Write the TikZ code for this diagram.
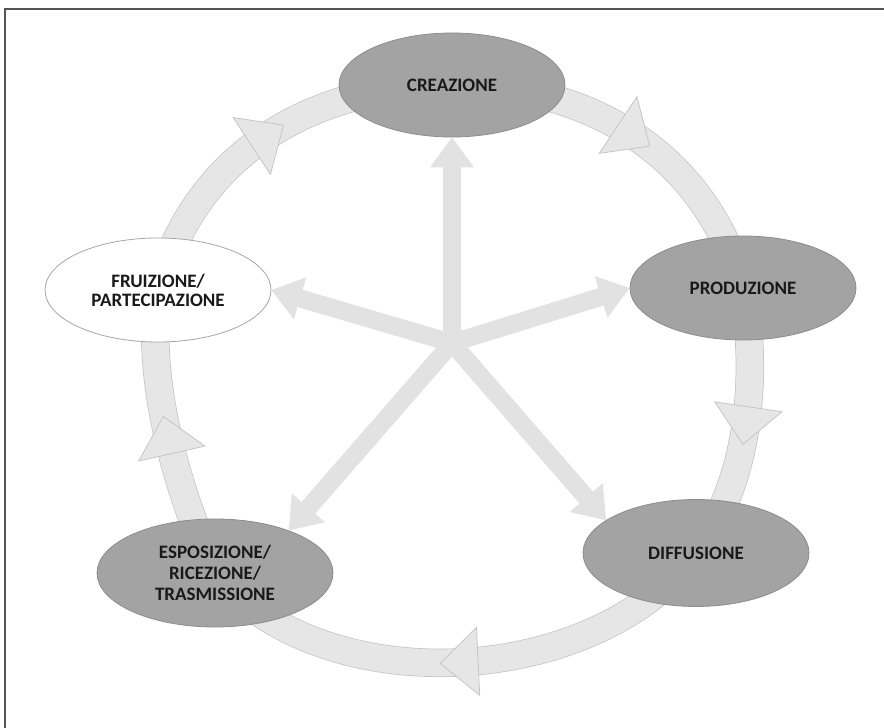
\documentclass[tikz,border=0pt]{standalone}
\usepackage{fontspec}
\setmainfont{Carlito}
\usepackage{xcolor}
\usepackage{tikz}
\usetikzlibrary{arrows.meta,shapes.geometric,decorations.markings,backgrounds}

\definecolor{stagefill}{HTML}{A3A3A3}
\definecolor{stageline}{HTML}{8C8C8C}
\definecolor{ringfill}{HTML}{E6E6E6}
\definecolor{ringline}{HTML}{C2C2C2}
\definecolor{spokecol}{HTML}{E2E2E2}
\definecolor{framecol}{HTML}{555555}

\begin{document}
\begin{tikzpicture}[
  x=1pt, y=1pt,
  font=\bfseries\fontsize{19}{19}\selectfont,
  stage/.style ={ellipse, draw=stageline, fill=stagefill, line width=0.8pt,
                 align=center, inner sep=0pt, text=black!90,
                 minimum width=226pt, minimum height=104pt},
  user/.style  ={stage, fill=white, draw=black!35},
  ring/.style  ={draw=ringline, line width=0.7pt, double=ringfill,
                 double distance=27pt, postaction={decorate},
                 decoration={markings, mark=at position 0.5 with
                   {\filldraw[draw=ringline, fill=ringfill, line width=0.7pt]
                     (-19pt,-34pt) -- (19pt,0pt) -- (-19pt,34pt) -- cycle;}}},
  spoke/.style ={draw=spokecol, line width=18pt, line cap=round,
                 -{Triangle[length=30pt, width=44pt, line width=0pt 0 0]}},
  frame/.style ={draw=framecol, line width=2.5pt}
]
\useasboundingbox (0,0) rectangle (884,728);

\draw[frame] (5,0) |- (884,719);

\node[stage] (crea) at (452,643) {CREAZIONE};
\node[stage] (prod) at (743,440) {PRODUZIONE};
\node[stage, minimum height=107pt] (diff) at (696,175) {DIFFUSIONE};
\node[stage, minimum width=236pt, minimum height=108pt,
      font=\bfseries\fontsize{19}{21}\selectfont] (espo) at (215,155)
  {ESPOSIZIONE/\\RICEZIONE/\\TRASMISSIONE};
\node[user] (frui) at (158,438) {FRUIZIONE/\\PARTECIPAZIONE};

\coordinate (hub) at (452,385);

% cycle, behind the stages
\begin{scope}[on background layer]
\draw[ring] (crea.center) to[out=0, in=106] (prod.center);
\draw[ring] (prod.center) to[out=-80, in=53, looseness=0.85] (diff.center);
\draw[ring] (diff.center) to[out=-127, in=-50, looseness=0.9] (espo.center);
\draw[ring] (espo.center) to[out=115, in=262, looseness=0.8] (frui.center);
\draw[ring] (frui.center) to[out=75, in=180] (crea.center);
\end{scope}

\draw[spoke] (hub) -- (crea.south);
\draw[spoke] (hub) -- (prod.west);
\draw[spoke] (hub) -- (diff.160);
\draw[spoke] (hub) -- (espo.30);
\draw[spoke] (hub) -- (frui.east);

\end{tikzpicture}
\end{document}
